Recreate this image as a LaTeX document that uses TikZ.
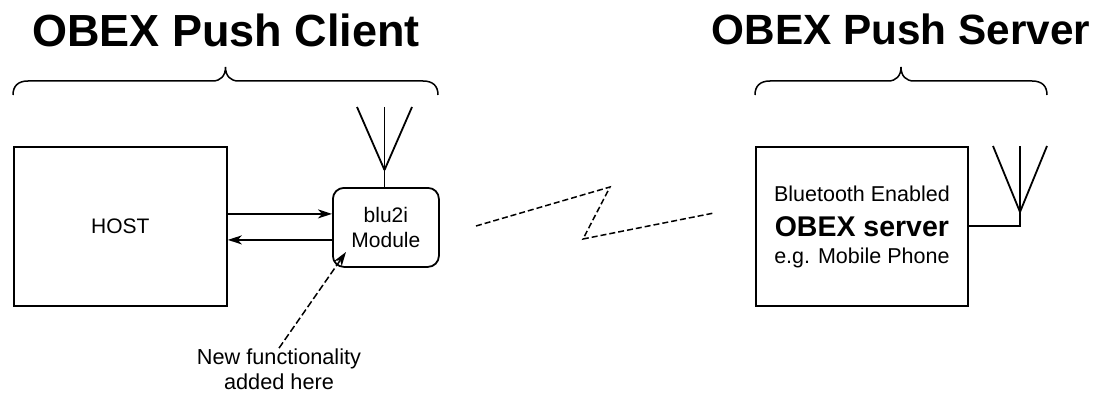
\documentclass[tikz,border=0pt]{standalone}
\usepackage{fontspec}
\setmainfont{Liberation Sans}
\usetikzlibrary{calc,arrows.meta}
\usetikzlibrary{positioning}

% curly bracket over a group: left end, right end
\newcommand{\groupbrace}[2]{
    \draw[grouping] (#1) .. controls ($(#1)+(0,-9)$) and ($(#1)+(5,-14)$) .. ($(#1)+(15,-14)$)
    -- ($($(#1)!0.5!(#2)$)+(-13,-14)$)
    .. controls ($($(#1)!0.5!(#2)$)+(-5,-14)$) and ($($(#1)!0.5!(#2)$)+(0,-19)$) .. ($($(#1)!0.5!(#2)$)+(0,-28)$)
    .. controls ($($(#1)!0.5!(#2)$)+(0,-19)$) and ($($(#1)!0.5!(#2)$)+(5,-14)$) .. ($($(#1)!0.5!(#2)$)+(13,-14)$)
    -- ($(#2)+(-15,-14)$)
    .. controls ($(#2)+(-5,-14)$) and ($(#2)+(0,-9)$) .. (#2);
}

\begin{document}
\begin{tikzpicture}[x=1pt,y=-1pt,line width=1.8pt,
    block/.style={rectangle,draw=black,fill=white,inner sep=0pt,anchor=north west},
    module/.style={block,rounded corners=11pt,align=center},
    label/.style={inner sep=0pt,align=center,font=\fontsize{21}{25}\selectfont},
    title/.style={inner sep=0pt,font=\fontsize{#1}{#1}\selectfont\bfseries},
    grouping/.style={draw,line width=1.5pt},
    link/.style={-{Stealth[length=14pt,width=9pt,inset=4pt]}},
    radio/.style={line width=1.5pt,dash pattern=on 6pt off 3pt}
    ]
    \useasboundingbox (0,0) rectangle (1097,393);

    % headings
    \node[title=45] (clienttitle) at (226,30) {OBEX Push Client};
    \node[title=42.3] (servertitle) at (901,29) {OBEX Push Server};

    % client side
    \node[block,minimum width=213pt,minimum height=159pt] (host) at (13,146) {};
    \node[label] at (host.center) {HOST};
    \node[module,minimum width=106pt,minimum height=79pt] (blu) at (332,187) {};
    \node[label] at (blu.center) {blu2i\\Module};
    \node[label,font=\fontsize{21.7}{25}\selectfont] (newfunc) at (279,369.5) {New functionality\\added here};

    % server side
    \node[block,minimum width=212pt,minimum height=159pt] (phone) at (755,146) {};
    \node[inner sep=0pt,font=\fontsize{28.5}{30}\selectfont\bfseries] (obex) at (phone.center) {OBEX server};
    \node[label,font=\fontsize{21.5}{25}\selectfont,above=13pt of obex] (btline) {Bluetooth Enabled};
    \node[label,font=\fontsize{21.5}{25}\selectfont,below=10pt of obex] (egline) {e.g. Mobile Phone};

    % brace end points
    \coordinate (cb1) at (13,95);
    \coordinate (cb2) at (438,95);
    \coordinate (sb1) at (755,95);
    \coordinate (sb2) at (1047,95);
    \groupbrace{cb1}{cb2}
    \groupbrace{sb1}{sb2}

    % data arrows
    \coordinate (up) at ($(blu.west)+(0,-13.5)$);
    \coordinate (down) at ($(blu.west)+(0,12.5)$);
    \path[every edge/.style={draw}, link]
    (host.east |- up) edge (up)
    (down) edge (host.east |- down);
    \coordinate (hit) at (346,252);
    \draw[link,line width=1.5pt,dash pattern=on 7pt off 3pt] (newfunc.north) -- (hit);

    % antennas
    \coordinate (capex) at (384.5,170);
    \foreach \t [count=\i] in {357,384.5,412} {
        \coordinate (ct\i) at (\t,107);
        \draw (ct\i) -- (capex);
    }
    \draw (capex) -- (blu.north -| capex);
    \coordinate (sapex) at (1020,212);
    \coordinate (sfoot) at (1020,226);
    \foreach \t [count=\i] in {993,1020,1047} {
        \coordinate (st\i) at (\t,146);
        \draw (st\i) -- (sapex);
    }
    \draw (sapex) -- (sfoot) -- (phone.east |- sfoot);

    % radio link
    \coordinate (z1) at (476,226);
    \coordinate (z2) at (610,187);
    \coordinate (z3) at (583,239);
    \coordinate (z4) at (714,213);
    \draw[radio] (z1) -- (z2) -- (z3) -- (z4);
\end{tikzpicture}
\end{document}
